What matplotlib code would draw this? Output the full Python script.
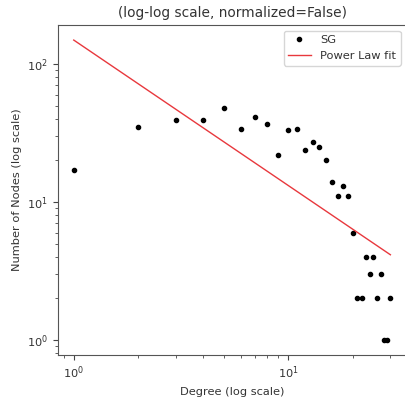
import numpy as np
import matplotlib.pyplot as plt

# degree distribution
degree = [1, 2, 3, 4, 5, 6, 7, 8, 9, 10, 11, 12, 13, 14, 15,
          16, 17, 18, 19, 20, 21, 22, 23, 24, 25, 26, 27, 28, 29, 30]
num_nodes = [17, 35, 39, 39, 48, 34, 41, 37, 22, 33, 34, 24, 27, 25, 20,
             14, 11, 13, 11, 6, 2, 2, 4, 3, 4, 2, 3, 1, 1, 2]

# power law fit parameters (y = a * x^-k)
fit_a = 149.0
fit_k = 1.053

plt.rcParams['font.size'] = 8.2

fig = plt.figure(figsize=(4.05, 3.98), dpi=100)
ax = fig.add_axes([0.143, 0.108, 0.86, 0.829])

x = np.array(degree, dtype=float)
ax.plot(degree, num_nodes, '.', color='black', markersize=6, label='SG')
ax.plot(x, fit_a * x ** (-fit_k), color='#e8383d', lw=1.0, label='Power Law fit')

ax.set_xscale('log')
ax.set_yscale('log')
ax.set_xlabel('Degree (log scale)', color='#333333')
ax.set_ylabel('Number of Nodes (log scale)', color='#333333')
ax.set_title('(log-log scale, normalized=False)', fontsize=9.9, color='#333333')
leg = ax.legend(loc='upper right')
for t in leg.get_texts():
    t.set_color('#333333')

for s in ax.spines.values():
    s.set_color('#555555')
ax.tick_params(colors='#444444', labelcolor='#333333', which='both')

fig.savefig('out.png', dpi=100)
